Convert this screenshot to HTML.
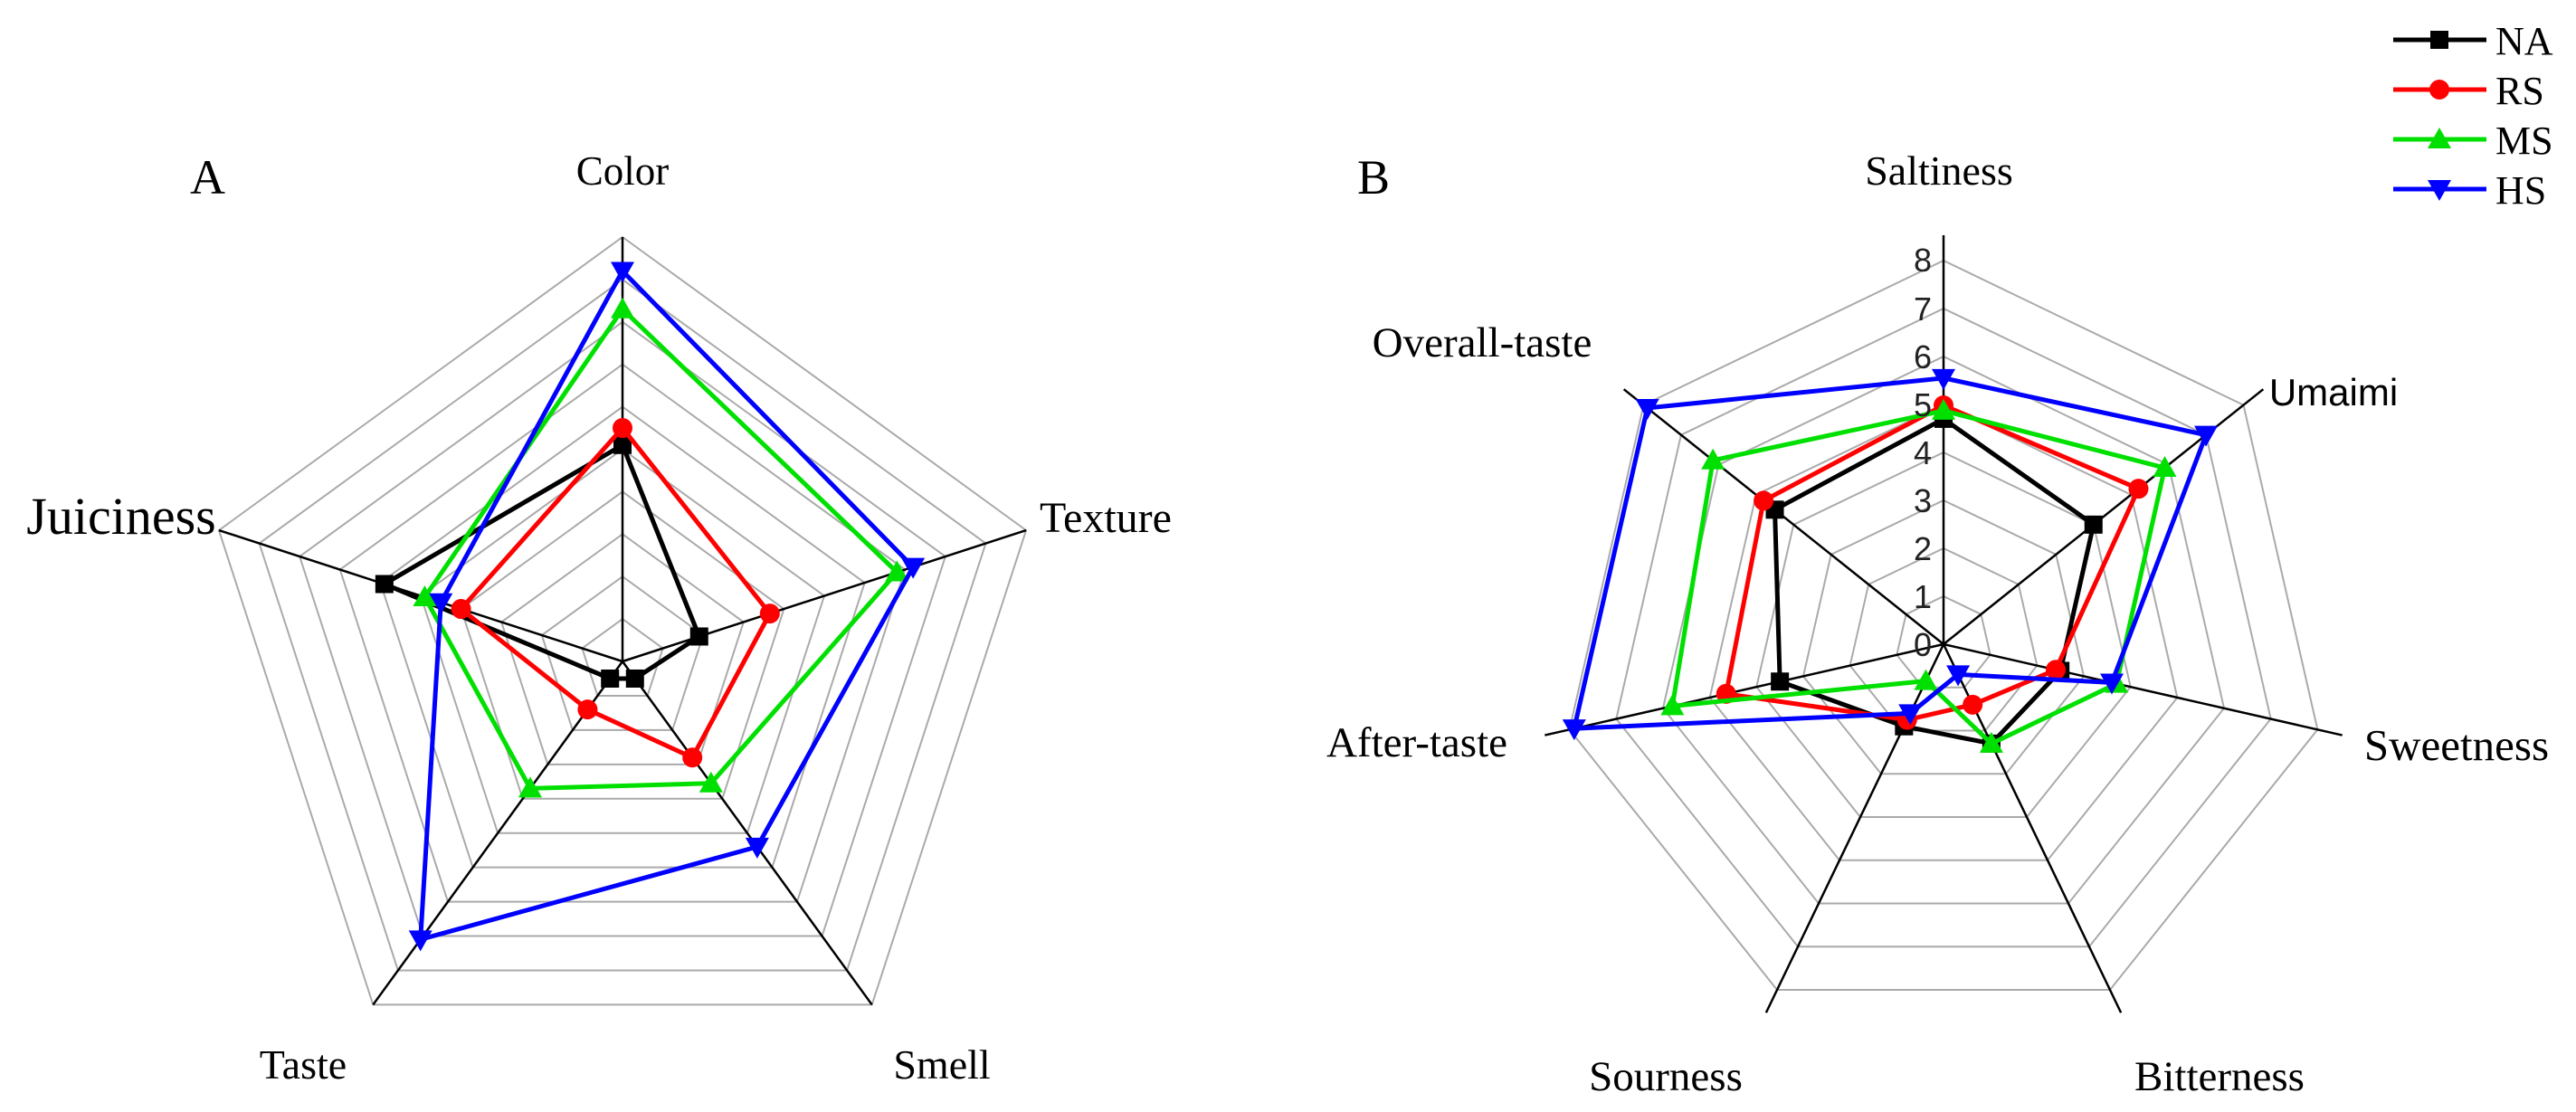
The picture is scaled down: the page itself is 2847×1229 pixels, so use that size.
<!DOCTYPE html>
<html><head><meta charset="utf-8"><style>
html,body{margin:0;padding:0;background:#fff;}
svg{display:block;}
.t{font-family:"Liberation Serif",serif;fill:#000;}
.n{font-family:"Liberation Sans",sans-serif;fill:#222;}
</style></head><body>
<svg id="s" width="2847" height="1229" viewBox="0 0 2847 1229" xmlns="http://www.w3.org/2000/svg">
<g id="g"></g>
<text class="t" x="210" y="214" font-size="54">A</text>
<text class="t" x="1500" y="214" font-size="54">B</text>
<text class="t" x="688" y="204" font-size="45" text-anchor="middle">Color</text>
<text class="t" x="1222" y="588" font-size="48" text-anchor="middle">Texture</text>
<text class="t" x="134" y="590" font-size="58" text-anchor="middle">Juiciness</text>
<text class="t" x="335" y="1192" font-size="46" text-anchor="middle">Taste</text>
<text class="t" x="1041" y="1192" font-size="46" text-anchor="middle">Smell</text>
<text class="t" x="2143" y="204" font-size="46" text-anchor="middle">Saltiness</text>
<text class="n" x="2579" y="448" font-size="42" text-anchor="middle" style="fill:#000">Umaimi</text>
<text class="t" x="2715" y="840" font-size="49" text-anchor="middle">Sweetness</text>
<text class="t" x="2453" y="1205" font-size="47" text-anchor="middle">Bitterness</text>
<text class="t" x="1841" y="1205" font-size="47" text-anchor="middle">Sourness</text>
<text class="t" x="1566" y="836" font-size="47" text-anchor="middle">After-taste</text>
<text class="t" x="1638" y="394" font-size="47" text-anchor="middle">Overall-taste</text>
<text class="t" x="2758" y="60" font-size="44">NA</text>
<text class="t" x="2758" y="115" font-size="44">RS</text>
<text class="t" x="2758" y="170" font-size="44">MS</text>
<text class="t" x="2758" y="225" font-size="44">HS</text>
<text class="n" x="2135" y="300" font-size="36" text-anchor="end">8</text>
</svg>
<script>
(function(){
var NS="http://www.w3.org/2000/svg",g=document.getElementById('g');
function el(t,a){var e=document.createElementNS(NS,t);for(var k in a)e.setAttribute(k,a[k]);g.appendChild(e);return e;}
function pt(cx,cy,r,ang){var a=ang*Math.PI/180;return [cx+r*Math.sin(a),cy-r*Math.cos(a)];}
var cols={NA:'#000',RS:'#ff0000',MS:'#00e000',HS:'#0000ff'};
function marker(k,x,y){
 var c=cols[k];
 if(k=='NA')el('rect',{x:x-10,y:y-10,width:20,height:20,fill:c});
 else if(k=='RS')el('circle',{cx:x,cy:y,r:11,fill:c});
 else if(k=='MS')el('polygon',{points:(x)+','+(y-13)+' '+(x-13)+','+(y+10)+' '+(x+13)+','+(y+10),fill:c});
 else el('polygon',{points:(x)+','+(y+13)+' '+(x-13)+','+(y-10)+' '+(x+13)+','+(y-10),fill:c});
}
function radar(cx,cy,n,rings,unit,axisLen,data){
 var i,j;
 for(j=1;j<=rings;j++){var p=[];for(i=0;i<n;i++){var q=pt(cx,cy,j*unit,i*360/n);p.push(q.join(','));}
  el('polygon',{points:p.join(' '),fill:'none',stroke:'#aaa','stroke-width':2});}
 for(i=0;i<n;i++){var q=pt(cx,cy,axisLen,i*360/n);el('line',{x1:cx,y1:cy,x2:q[0],y2:q[1],stroke:'#000','stroke-width':2.5});}
 ['NA','RS','MS','HS'].forEach(function(k){
  var v=data[k],p=[];for(i=0;i<n;i++)p.push(pt(cx,cy,v[i]*unit,i*360/n));
  el('polygon',{points:p.map(function(a){return a.join(',')}).join(' '),fill:'none',stroke:cols[k],'stroke-width':5,'stroke-linejoin':'miter'});
  p.forEach(function(a){marker(k,a[0],a[1]);});
 });
}
radar(688,731,5,10,46.9,469,{
 NA:[5.1,1.9,0.5,0.5,5.9],RS:[5.5,3.65,2.8,1.4,4.0],MS:[8.3,6.8,3.55,3.7,4.9],HS:[9.2,7.2,5.4,8.1,4.5]});
radar(2148,712,7,8,53,452,{
 NA:[4.7,4.0,2.5,2.3,1.9,3.5,4.5],RS:[4.98,5.2,2.4,1.4,1.75,4.65,4.8],
 MS:[4.87,5.9,3.7,2.3,0.85,5.8,6.15],HS:[5.55,7.0,3.6,0.7,1.6,7.9,7.9]});
for(var t=0;t<=7;t++){var e=el('text',{x:2135,y:712-t*53+13,'font-size':36,'text-anchor':'end','class':'n'});e.textContent=t;}
['NA','RS','MS','HS'].forEach(function(k,i){var y=44+i*55;el('line',{x1:2645,y1:y,x2:2748,y2:y,stroke:cols[k],'stroke-width':5});marker(k,2696,y);});
})();
</script>
</body></html>
